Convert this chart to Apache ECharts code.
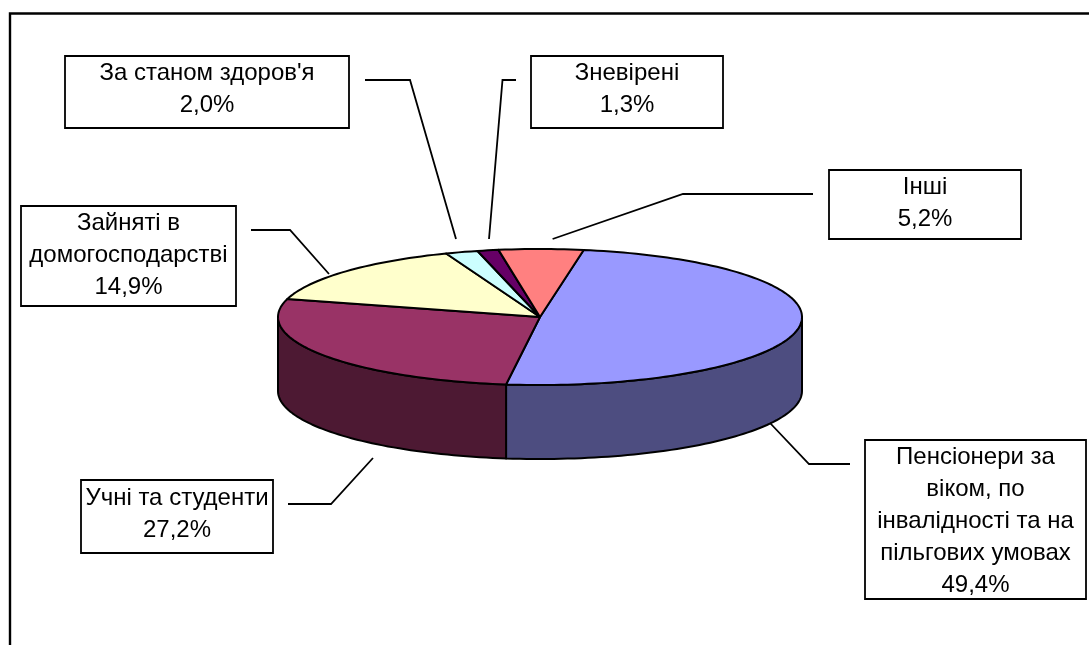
<!DOCTYPE html>
<html>
<head>
<meta charset="utf-8">
<style>
html, body { margin: 0; padding: 0; background: #fff; }
#chart { width: 1089px; height: 645px; }
</style>
<script src="https://cdn.jsdelivr.net/npm/echarts@6/dist/echarts.min.js"></script>
</head>
<body>
<div id="chart"></div>
<script>
// Share of the economically inactive population by category, in percent
const categories = [
  'Пенсіонери за\nвіком, по\nінвалідності та на\nпільгових умовах',
  'Учні та студенти',
  'Зайняті в\nдомогосподарстві',
  "За станом здоров'я",
  'Зневірені',
  'Інші'
];
const shares = [49.4, 27.2, 14.9, 2.0, 1.3, 5.2];
const topColors = ['#9999FF', '#993366', '#FFFFCC', '#CCFFFF', '#660066', '#FF8080'];
const wallColors = ['#4D4D80', '#4D1933', '#808066', '#668080', '#330033', '#804040'];

// Pie geometry: flattened disc seen from above
const disc = { cx: 540, cy: 317, rx: 262, ry: 68, depth: 74, startDeg: 9.6 };

// Callout boxes [left, top, right, bottom], text block centre y, leader polyline
const callouts = [
  { box: [865, 440, 1086, 599], textY: 521, leader: [[850, 464], [809, 464], [770, 423]] },
  { box: [81, 480, 273, 553], textY: 514, leader: [[288, 504], [331, 504], [373, 458]] },
  { box: [21, 206, 236, 306], textY: 255, leader: [[251, 230], [290, 230], [329, 274]] },
  { box: [65, 56, 349, 128], textY: 89, leader: [[365, 80], [410, 80], [456, 239]] },
  { box: [531, 56, 723, 128], textY: 89, leader: [[516, 80], [502.5, 80], [489, 239]] },
  { box: [829, 170, 1021, 239], textY: 203.5, leader: [[813, 194], [683, 194], [552.6, 239]] }
];

const outline = { stroke: '#000', lineWidth: 2, lineJoin: 'round' };
const total = shares.reduce((a, b) => a + b, 0);

// Cumulative start/end angle of each slice, clockwise from 12 o'clock
const spans = [];
shares.reduce((from, v) => {
  const to = from + v / total * 360;
  spans.push([from, to]);
  return to;
}, disc.startDeg);

function rimPoint(deg, drop) {
  const a = deg * Math.PI / 180;
  return [disc.cx + disc.rx * Math.sin(a), disc.cy - disc.ry * Math.cos(a) + drop];
}

function arcPoints(from, to, drop) {
  const steps = Math.max(2, Math.ceil((to - from) / 1.5));
  const pts = [];
  for (let i = 0; i <= steps; i++) {
    pts.push(rimPoint(from + (to - from) * i / steps, drop));
  }
  return pts;
}

function renderSlice(params, api) {
  const i = api.value(0);
  const [from, to] = spans[i];
  const children = [];
  // Only the part of the side wall on the near half of the disc is visible
  const wallFrom = Math.max(from, 90);
  const wallTo = Math.min(to, 270);
  if (wallTo > wallFrom) {
    children.push({
      type: 'polygon',
      z2: 1,
      shape: {
        points: arcPoints(wallFrom, wallTo, 0).concat(arcPoints(wallFrom, wallTo, disc.depth).reverse())
      },
      style: Object.assign({ fill: wallColors[i] }, outline)
    });
  }
  children.push({
    type: 'polygon',
    z2: 2,
    shape: { points: [[disc.cx, disc.cy]].concat(arcPoints(from, to, 0)) },
    style: Object.assign({ fill: topColors[i] }, outline)
  });
  return { type: 'group', children };
}

function percentText(v) {
  return v.toFixed(1).replace('.', ',') + '%';
}

function renderCallout(params, api) {
  const i = api.value(0);
  const c = callouts[i];
  const [l, t, r, b] = c.box;
  return {
    type: 'group',
    children: [
      {
        type: 'rect',
        shape: { x: l, y: t, width: r - l, height: b - t },
        style: { fill: '#fff', stroke: '#000', lineWidth: 1.8 }
      },
      {
        type: 'polyline',
        shape: { points: c.leader },
        style: { fill: null, stroke: '#000', lineWidth: 1.8 }
      },
      {
        type: 'text',
        style: {
          text: categories[i] + '\n' + percentText(shares[i]),
          x: (l + r) / 2,
          y: c.textY,
          align: 'center',
          verticalAlign: 'middle',
          fontFamily: '"Liberation Sans", Arial, sans-serif',
          fontSize: 24,
          lineHeight: 32,
          fill: '#000'
        }
      }
    ]
  };
}

const chart = echarts.init(document.getElementById('chart'), null, { renderer: 'canvas' });
const indexData = shares.map((v, i) => [i, v]);

chart.setOption({
  animation: false,
  backgroundColor: '#fff',
  graphic: [{
    // Chart area border
    type: 'polyline',
    silent: true,
    shape: { points: [[10, 645], [10, 13.5], [1089, 13.5]] },
    style: { fill: null, stroke: '#000', lineWidth: 2.4 }
  }],
  series: [
    { type: 'custom', coordinateSystem: 'none', silent: true, data: indexData, renderItem: renderSlice, z: 2 },
    { type: 'custom', coordinateSystem: 'none', silent: true, data: indexData, renderItem: renderCallout, z: 3 }
  ]
});
</script>
</body>
</html>
